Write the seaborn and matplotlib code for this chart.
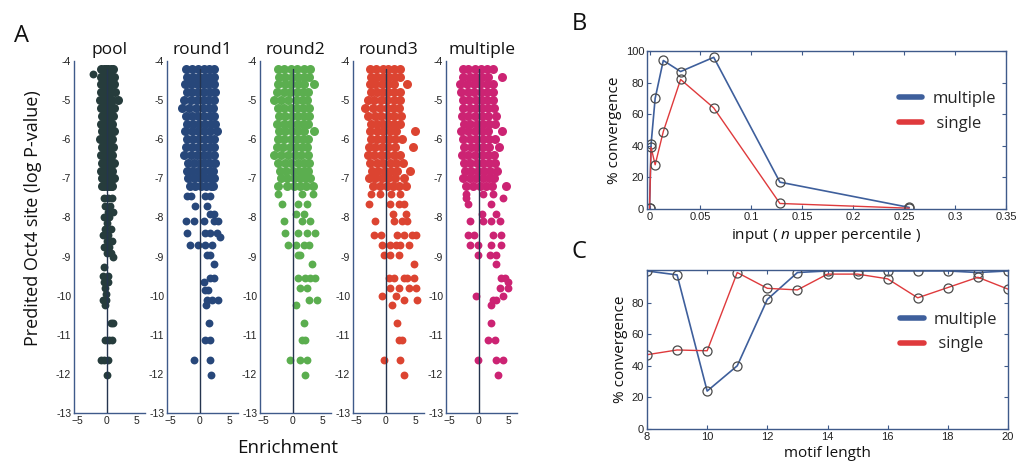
import matplotlib
matplotlib.use("Agg")
import matplotlib.pyplot as plt
import seaborn as sns
import pandas as pd

# ---------------- DATA ----------------
panel_names = ["pool", "round1", "round2", "round3", "multiple"]
panel_colors = ["#263c3c", "#27477a", "#5bae4f", "#dc4431", "#cc2373"]

core_y = [-4.2, -4.4, -4.6, -4.8, -5.0, -5.2, -5.4, -5.6,
          -5.8, -6.0, -6.2, -6.4, -6.6, -6.8, -7.0, -7.2]

pool_core_x = [
    [-0.9, -0.5, -0.1, 0.3, 0.7, 1.1], [-1.0, -0.6, -0.2, 0.2, 0.6, 1.2],
    [-0.9, -0.5, -0.1, 0.3, 0.7, 1.3], [-0.9, -0.5, -0.1, 0.3, 0.8, 1.4],
    [-1.1, -0.6, -0.1, 0.4, 1.0, 1.9], [-0.9, -0.5, -0.1, 0.3, 0.7, 1.2],
    [-0.8, -0.4, 0.0, 0.4, 0.8, 1.1], [-0.9, -0.5, -0.1, 0.3, 0.7, 1.0],
    [-0.8, -0.4, 0.0, 0.4, 0.8, 1.3], [-1.1, -0.6, -0.2, 0.2, 0.6, 1.0],
    [-0.8, -0.4, 0.0, 0.4, 0.8, 1.1], [-0.9, -0.5, -0.1, 0.3, 0.7, 1.0],
    [-0.7, -0.3, 0.1, 0.5, 0.9, 1.2], [-0.9, -0.5, -0.1, 0.3, 0.7, 1.0],
    [-0.7, -0.3, 0.1, 0.5, 0.9, 1.2], [-0.8, -0.4, 0.0, 0.4, 0.8, 1.0]]
pool_tail_x = [-2.3, -0.5, 0.3, 0.9, -0.3, 0.6, 0.2, 1.1, -0.5, 0.4, 0.0,
               -0.3, 0.7, -0.6, 0.3, 0.1, 0.9, -0.4, 0.5, 0.0, 0.8, 1.1,
               -0.4, -0.6, 0.2, -0.4, 0.3, -0.3, -0.1, -0.6, -0.1, -0.3,
               0.8, 1.1, -0.3, 0.5, 1.0, -1.0, -0.5, 0.2, 0.0]
pool_tail_y = [-4.34, -7.5, -7.5, -7.5, -7.7, -7.7, -7.85, -7.85, -8.0, -8.0, -8.15,
               -8.3, -8.3, -8.45, -8.45, -8.6, -8.6, -8.75, -8.75, -8.9, -8.9, -9.0,
               -9.27, -9.5, -9.5, -9.65, -9.65, -9.8, -9.95, -10.1, -10.1, -10.25,
               -10.7, -10.7, -11.13, -11.13, -11.13, -11.64, -11.64, -11.64, -12.03]

round1_core_x = [
    [-2.3, -1.3, -0.3, 0.7, 1.6, 2.5], [-2.1, -1.1, -0.1, 0.9, 1.8, 2.5],
    [-2.4, -1.4, -0.4, 0.6, 1.5, 2.4], [-2.2, -1.2, -0.2, 0.8, 1.7, 2.6],
    [-2.6, -1.5, -0.5, 0.5, 1.5, 2.4], [-3.0, -1.8, -0.6, 0.6, 1.6, 2.3],
    [-2.3, -1.3, -0.3, 0.7, 1.7, 2.5], [-2.2, -1.1, -0.1, 0.9, 1.9, 2.6],
    [-2.4, -1.3, -0.3, 0.8, 1.8, 3.0], [-2.1, -1.1, -0.1, 0.9, 1.8, 2.5],
    [-2.3, -1.3, -0.3, 0.7, 1.7, 2.4], [-2.6, -1.5, -0.5, 0.5, 1.5, 2.5],
    [-2.0, -1.0, 0.0, 0.9, 1.8, 2.6], [-2.2, -1.2, -0.2, 0.8, 1.7, 2.3],
    [-1.9, -0.9, 0.1, 1.0, 1.8, 2.5], [-1.6, -0.7, 0.3, 1.1, 1.9, 2.3]]
round1_tail_x = [-2.1, -1.5, 0.9, 1.8, -0.7, 1.2, 1.8, 2.4, -2.3, -1.0, 0.7, 2.4, 3.2,
                 -2.1, 1.0, 1.8, 2.9, 3.5, -1.6, -0.2, 1.0, 2.1, 1.2, 1.8, 2.4,
                 1.8, 2.4, 0.7, 1.0, 1.5, 1.2, 2.1, 3.2, 1.1, 1.6, 1.0, 1.8,
                 -0.9, 1.8, 1.9]
round1_tail_y = [-7.45, -7.45, -7.45, -7.45, -7.7, -7.7, -7.9, -7.9, -8.1, -8.1, -8.1, -8.1, -8.1,
                 -8.4, -8.4, -8.4, -8.4, -8.5, -8.7, -8.7, -8.7, -8.7, -8.95, -8.95, -9.2,
                 -9.55, -9.55, -9.65, -9.85, -9.85, -10.1, -10.1, -10.1, -10.25, -10.7, -11.13, -11.13,
                 -11.64, -11.64, -12.03]

round2_core_x = [
    [-2.5, -1.4, -0.3, 0.8, 1.9, 2.9], [-2.3, -1.2, -0.1, 1.0, 2.0, 2.8],
    [-2.4, -1.3, -0.2, 0.9, 2.0, 3.6], [-2.6, -1.5, -0.4, 0.7, 1.7, 2.6],
    [-3.1, -1.9, -0.7, 0.5, 1.6, 2.5], [-2.5, -1.4, -0.3, 0.8, 1.8, 2.7],
    [-2.3, -1.2, -0.1, 1.0, 2.0, 2.7], [-2.6, -1.5, -0.4, 0.7, 1.7, 2.6],
    [-2.3, -1.2, -0.1, 1.0, 2.0, 3.6], [-2.5, -1.4, -0.3, 0.8, 1.8, 2.6],
    [-2.7, -1.6, -0.5, 0.6, 1.6, 2.5], [-3.2, -2.0, -0.8, 0.4, 1.5, 2.6],
    [-2.4, -1.3, -0.2, 0.9, 1.9, 2.8], [-2.2, -1.1, 0.0, 1.1, 2.0, 2.6],
    [-2.0, -0.9, 0.2, 1.2, 2.1, 2.9], [-2.4, -1.0, 0.3, 1.2, 2.2, 3.4]]
round2_tail_x = [-2.4, 1.6, 3.4, -1.7, 1.0, 2.4, 0.5, 2.0, -1.5, 1.6, 3.0,
                 -1.2, 1.0, 2.4, 3.8, -0.7, 0.5, 1.9, 2.7, 1.0, 1.3, 3.3,
                 1.0, 2.1, 3.0, 3.8, 1.3, 2.4, 2.7, 4.1, 0.5, 1.9, 1.6, 2.1,
                 -0.4, 1.3, 2.4, 2.1]
round2_tail_y = [-7.4, -7.4, -7.4, -7.65, -7.65, -7.65, -7.9, -7.9, -8.1, -8.1, -8.1,
                 -8.4, -8.4, -8.4, -8.4, -8.7, -8.7, -8.7, -8.7, -8.95, -8.95, -9.2,
                 -9.55, -9.55, -9.55, -9.55, -9.8, -9.8, -10.1, -10.1, -10.25, -10.7, -11.13, -11.13,
                 -11.64, -11.64, -11.64, -12.03]

round3_core_x = [
    [-2.6, -1.6, -0.5, 0.5, 1.5, 2.5], [-2.4, -1.4, -0.4, 0.6, 1.6, 2.4],
    [-2.7, -1.7, -0.6, 0.4, 1.4, 3.6], [-2.5, -1.5, -0.5, 0.5, 1.5, 2.5],
    [-3.0, -1.9, -0.8, 0.3, 1.4, 2.4], [-3.4, -2.2, -1.0, 0.2, 1.3, 2.3],
    [-2.9, -1.8, -0.7, 0.4, 1.5, 2.6], [-2.5, -1.5, -0.5, 0.5, 1.5, 2.5],
    [-2.6, -1.5, -0.4, 0.7, 1.8, 4.9], [-2.4, -1.4, -0.4, 0.6, 1.6, 2.8],
    [-2.8, -1.7, -0.6, 0.5, 1.6, 4.7], [-3.0, -1.9, -0.8, 0.3, 1.4, 2.5],
    [-2.6, -1.5, -0.4, 0.7, 1.8, 3.0], [-2.3, -1.2, -0.1, 1.0, 2.0, 4.1],
    [-2.8, -1.7, -0.6, 0.5, 1.6, 3.2], [-2.2, -1.0, 0.2, 1.3, 2.3, 3.5]]
round3_tail_x = [-2.5, -1.0, 0.9, 2.5, -2.8, 0.8, 2.3, 3.1, 1.2, 3.5,
                 -1.7, 1.4, 2.8, 3.7, -2.0, -0.8, 2.0, 3.1, 4.5, 5.1,
                 -0.6, 0.8, 1.7, 2.5, 4.0, -0.3, 0.8, 2.3, 4.8,
                 0.6, 1.4, 3.1, 3.7, 4.8, 0.8, 2.3, 4.0, 5.1, -0.6, 1.7,
                 3.1, 5.4, 1.1, 2.0, 2.3, 2.8, -0.3, 2.5, 3.1]
round3_tail_y = [-7.4, -7.4, -7.4, -7.4, -7.65, -7.65, -7.65, -7.65, -7.9, -7.9,
                 -8.1, -8.1, -8.1, -8.1, -8.45, -8.45, -8.45, -8.45, -8.45, -8.45,
                 -8.7, -8.7, -8.7, -8.7, -8.7, -8.95, -8.95, -8.95, -9.2,
                 -9.55, -9.55, -9.55, -9.55, -9.55, -9.8, -9.8, -9.8, -9.8, -10.0, -10.0,
                 -10.1, -10.1, -10.25, -10.7, -11.13, -11.13, -11.64, -11.64, -12.03]

multiple_core_x = [
    [-2.7, -1.7, -0.6, 0.4, 1.4, 2.4], [-2.6, -1.5, -0.4, 0.6, 1.6, 3.9],
    [-3.1, -2.0, -0.8, 0.3, 1.4, 2.4], [-2.9, -1.8, -0.7, 0.4, 1.5, 2.5],
    [-2.7, -1.6, -0.5, 0.5, 1.5, 2.5], [-2.6, -1.5, -0.4, 0.6, 1.6, 2.6],
    [-2.8, -1.7, -0.6, 0.5, 1.6, 2.9], [-2.5, -1.4, -0.3, 0.7, 1.7, 2.7],
    [-2.9, -1.8, -0.6, 0.5, 1.6, 4.0], [-2.6, -1.5, -0.4, 0.7, 1.8, 2.8],
    [-2.4, -1.3, -0.2, 0.8, 1.8, 3.5], [-2.8, -1.7, -0.6, 0.5, 1.6, 2.6],
    [-2.5, -1.4, -0.3, 0.8, 1.8, 2.7], [-2.3, -1.2, -0.1, 0.9, 1.9, 3.2],
    [-2.6, -1.5, -0.4, 0.7, 1.7, 2.6], [-2.2, -1.0, 0.2, 1.2, 2.2, 4.6]]
multiple_tail_x = [-2.2, 0.8, 2.4, -2.1, 4.1, -1.8, 2.1, 0.6, 3.0,
                   -1.5, 0.7, 2.1, 3.6, -1.8, -0.7, 2.4, 3.8, -1.5, -0.1, 2.1, 3.8,
                   -0.1, 1.9, 3.0, 3.0, 3.8, 4.4, 5.0, 3.6, 5.0, -0.4, 4.1,
                   2.4, 3.0, 2.1, 2.1, 1.6, 2.7, -0.1, 3.0, 4.1, 3.3]
multiple_tail_y = [-7.4, -7.4, -7.4, -7.5, -7.5, -7.65, -7.65, -7.9, -7.9,
                   -8.1, -8.1, -8.1, -8.1, -8.45, -8.45, -8.45, -8.45, -8.7, -8.7, -8.7, -8.7,
                   -8.95, -8.95, -8.95, -9.2, -9.55, -9.55, -9.65, -9.8, -9.8, -10.0, -10.0,
                   -10.1, -10.1, -10.25, -10.7, -11.13, -11.13, -11.64, -11.64, -11.64, -12.03]

core_x_all = [pool_core_x, round1_core_x, round2_core_x, round3_core_x, multiple_core_x]
tail_x_all = [pool_tail_x, round1_tail_x, round2_tail_x, round3_tail_x, multiple_tail_x]
tail_y_all = [pool_tail_y, round1_tail_y, round2_tail_y, round3_tail_y, multiple_tail_y]

# Panel B
b_input = [0.0, 0.0015, 0.0055, 0.0135, 0.0305, 0.063, 0.128, 0.255]
b_multiple = [0.5, 41, 70, 94, 87, 96, 17, 1]
b_single = [0.5, 39, 28, 49, 82, 64, 3.5, 0.5]
b_xticks = [0, 0.05, 0.1, 0.15, 0.2, 0.25, 0.3, 0.35]
b_xticklabels = ["0", "0.05", "0.1", "0.15", "0.2", "0.25", "0.3", "0.35"]
b_yticks = [0, 20, 40, 60, 80, 100]

# Panel C
c_length = [8, 9, 10, 11, 12, 13, 14, 15, 16, 17, 18, 19, 20]
c_multiple = [100, 97.5, 24, 40, 82, 99, 100, 100, 100, 100, 100, 99, 100]
c_single = [47, 50, 49.5, 99, 89, 88, 98, 98, 95, 83, 89.5, 96, 88.5]
c_xticks = [8, 10, 12, 14, 16, 18, 20]
c_yticks = [0, 20, 40, 60, 80]

# ---------------- STYLE ----------------
sns.set_style("white")
LABEL_FONT = ["Open Sans", "DejaVu Sans"]
TICK_FONT = ["Liberation Sans", "DejaVu Sans"]
plt.rcParams["font.family"] = TICK_FONT
plt.rcParams["mathtext.fontset"] = "custom"
plt.rcParams["mathtext.it"] = "Open Sans:italic"
plt.rcParams["mathtext.rm"] = "Open Sans"

AXC = "#3f5a8a"
TICKC = "#222222"
BLUE = "#3e5f9c"
RED = "#df3a3c"

W, H = 1017, 473
fig = plt.figure(figsize=(W / 100, H / 100), dpi=100)


def px_axes(left, top, right, bottom):
    return fig.add_axes([left / W, 1 - bottom / H, (right - left) / W, (bottom - top) / H])


# ---------------- PANEL A ----------------
lefts = [74, 167, 260, 353, 446]
for i, name in enumerate(panel_names):
    ax = px_axes(lefts[i], 61, lefts[i] + 71, 413)
    cx, cy = [], []
    for row_y, row_x in zip(core_y, core_x_all[i]):
        cx.extend(row_x)
        cy.extend([row_y] * len(row_x))
    df_core = pd.DataFrame({"enrichment": cx, "logp": cy})
    df_tail = pd.DataFrame({"enrichment": tail_x_all[i], "logp": tail_y_all[i]})
    sns.scatterplot(data=df_core, x="enrichment", y="logp", ax=ax, color=panel_colors[i],
                    s=42, linewidth=0, legend=False, zorder=2)
    sns.scatterplot(data=df_tail, x="enrichment", y="logp", ax=ax, color=panel_colors[i],
                    s=32, linewidth=0, legend=False, zorder=2)
    ax.set_xlim(-5.5, 6.5)
    ax.set_ylim(-13, -4)
    ax.axvline(0, ymin=0, ymax=(max(core_y) + 13) / 9, color="#24344f", lw=1.0, zorder=3)
    ax.set_xticks([-5, 0, 5])
    ax.set_yticks(list(range(-13, -3)))
    ax.set_yticklabels([str(v) for v in range(-13, -3)])
    ax.tick_params(axis="both", direction="in", length=3, width=0.8, color=AXC,
                   labelsize=7.5, labelcolor=TICKC, pad=2)
    for s in ["top", "right"]:
        ax.spines[s].set_visible(False)
    for s in ["left", "bottom"]:
        ax.spines[s].set_color(AXC)
        ax.spines[s].set_linewidth(1.0)
    ax.set_xlabel("")
    ax.set_ylabel("")
    ax.set_title(name, fontsize=12.5, family=LABEL_FONT, color="#111111", pad=5)

fig.text(33 / W, 1 - 218 / H, "Predited Oct4 site (log P-value)", rotation=90,
         ha="center", va="center", fontsize=13, family=LABEL_FONT, color="#111111")
fig.text(288 / W, 1 - 448 / H, "Enrichment", ha="center", va="center",
         fontsize=13.5, family=LABEL_FONT, color="#111111")
fig.text(21 / W, 1 - 36 / H, "A", ha="center", va="center", fontsize=17,
         family=LABEL_FONT, color="#111111")
fig.text(579 / W, 1 - 24 / H, "B", ha="center", va="center", fontsize=17,
         family=LABEL_FONT, color="#111111")
fig.text(579 / W, 1 - 252 / H, "C", ha="center", va="center", fontsize=17,
         family=LABEL_FONT, color="#111111")


def style_box(ax):
    for s in ax.spines.values():
        s.set_visible(True)
        s.set_color(AXC)
        s.set_linewidth(1.0)
    ax.tick_params(axis="both", direction="in", length=3, width=0.8, color=AXC,
                   labelsize=8, labelcolor=TICKC, pad=2, top=True, right=True,
                   bottom=True, left=True)


mk = dict(marker="o", markersize=6.5, markerfacecolor="none",
          markeredgecolor="#4a4a4a", markeredgewidth=0.9)

# ---------------- PANEL B ----------------
axb = px_axes(647, 51, 1006, 209)
dfb = pd.DataFrame({"input": b_input, "multiple": b_multiple, "single": b_single})
sns.lineplot(data=dfb, x="input", y="multiple", ax=axb, color=BLUE, lw=1.2,
             label="multiple", **mk)
sns.lineplot(data=dfb, x="input", y="single", ax=axb, color=RED, lw=1.0,
             label=" single", **mk)
axb.set_xlim(-0.0025, 0.35)
axb.set_ylim(0, 100)
axb.set_xticks(b_xticks)
axb.set_xticklabels(b_xticklabels)
axb.set_yticks(b_yticks)
style_box(axb)
axb.set_ylabel("% convergence", fontsize=11, family=LABEL_FONT, color="#111111", labelpad=3)
axb.set_xlabel(r"input ( $\it{n}$ upper percentile )", fontsize=11, family=LABEL_FONT,
               color="#111111", labelpad=3)

# ---------------- PANEL C ----------------
axc = px_axes(647, 270, 1008, 429)
dfc = pd.DataFrame({"length": c_length, "multiple": c_multiple, "single": c_single})
sns.lineplot(data=dfc, x="length", y="multiple", ax=axc, color=BLUE, lw=1.2,
             label="multiple", **mk)
sns.lineplot(data=dfc, x="length", y="single", ax=axc, color=RED, lw=1.0,
             label=" single", **mk)
axc.set_xlim(8, 20)
axc.set_ylim(0, 100.6)
axc.set_xticks(c_xticks)
axc.set_yticks(c_yticks)
style_box(axc)
axc.set_ylabel("% convergence", fontsize=11, family=LABEL_FONT, color="#111111", labelpad=3)
axc.set_xlabel("motif length", fontsize=11, family=LABEL_FONT, color="#111111", labelpad=3)

for ax, anchor in [(axb, (0.66, 0.84)), (axc, (0.66, 0.83))]:
    leg = ax.legend(loc="upper left", bbox_to_anchor=anchor, frameon=False,
                    handlelength=1.4, handletextpad=0.6, labelspacing=0.5,
                    prop={"family": LABEL_FONT, "size": 12})
    for ln in leg.get_lines():
        ln.set_linewidth(4)
        ln.set_marker("")

fig.savefig("out.png", dpi=100, facecolor="white")
